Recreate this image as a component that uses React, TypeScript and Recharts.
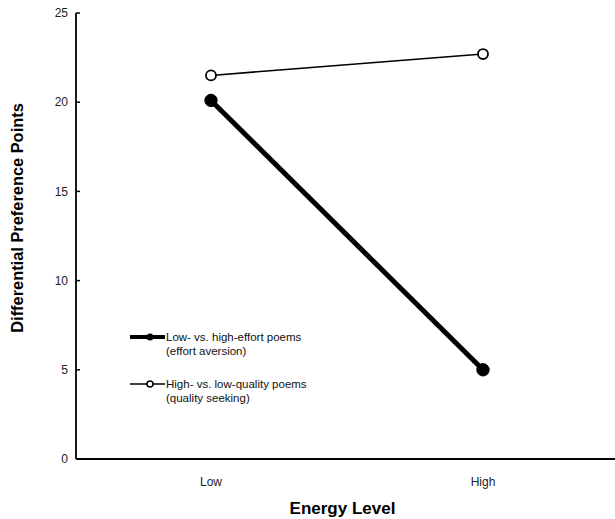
import React from 'react';
import { LineChart, Line, XAxis, YAxis, Legend, Label } from 'recharts';

const categories = ['Low', 'High'];
const effortAversion = [20.1, 5.0];
const qualitySeeking = [21.5, 22.7];
const yTicks = [0, 5, 10, 15, 20, 25];

const data = categories.map((c, i) => ({
  level: c,
  effort: effortAversion[i],
  quality: qualitySeeking[i],
}));

const FONT = '"Liberation Sans", Arial, sans-serif';

const LegendContent = () => (
  <svg width={240} height={90} style={{ fontFamily: FONT, display: 'block' }}>
    <line x1={0} y1={8} x2={35} y2={8} stroke="#000" strokeWidth={4} />
    <circle cx={20} cy={8} r={3.5} fill="#000" />
    <text x={36} y={12} fontSize={11.5} fill="#111">Low- vs. high-effort poems</text>
    <text x={36} y={26} fontSize={11.5} fill="#111">(effort aversion)</text>
    <line x1={0} y1={55} x2={35} y2={55} stroke="#000" strokeWidth={1.5} />
    <circle cx={20} cy={55} r={3} fill="#fff" stroke="#000" strokeWidth={1.5} />
    <text x={36} y={59} fontSize={11.5} fill="#111">High- vs. low-quality poems</text>
    <text x={36} y={73} fontSize={11.5} fill="#111">(quality seeking)</text>
  </svg>
);

export default function App() {
  return (
    <div style={{ position: 'absolute', left: 0, top: 0, background: '#fff' }}>
      <LineChart
        width={615}
        height={519}
        data={data}
        margin={{ top: 13, right: 0, bottom: 0, left: 0 }}
      >
        <XAxis
          dataKey="level"
          scale="point"
          padding={{ left: 135, right: 132 }}
          height={60}
          tickLine={false}
          axisLine={{ stroke: '#000', strokeWidth: 1.8 }}
          tick={{ fill: '#222', fontSize: 12, fontFamily: FONT }}
          tickMargin={12}
        >
          <Label
            value="Energy Level"
            position="insideBottom"
            offset={5}
            dx={-3}
            style={{ fontFamily: FONT, fontWeight: 'bold', fontSize: 17, fill: '#000' }}
          />
        </XAxis>
        <YAxis
          type="number"
          domain={[0, 25]}
          ticks={yTicks}
          width={76}
          tickSize={-4}
          tickMargin={12}
          tickLine={{ stroke: '#000', strokeWidth: 1.5 }}
          axisLine={{ stroke: '#000', strokeWidth: 1.8 }}
          tick={{ fill: '#222', fontSize: 12, fontFamily: FONT }}
        >
          <Label
            value="Differential Preference Points"
            angle={-90}
            position="insideLeft"
            offset={17}
            dx={0}
            dy={-18}
            style={{ fontFamily: FONT, fontWeight: 'bold', fontSize: 16.4, fill: '#000', textAnchor: 'middle' }}
          />
        </YAxis>
        <Legend
          verticalAlign="top"
          align="left"
          content={() => <LegendContent />}
          wrapperStyle={{ position: 'absolute', left: 130, top: 329, width: 0, height: 0, overflow: 'visible' }}
        />
        <Line
          dataKey="effort"
          stroke="#000"
          strokeWidth={5}
          dot={{ r: 6.2, fill: '#000', stroke: '#000', strokeWidth: 1 }}
          isAnimationActive={false}
        />
        <Line
          dataKey="quality"
          stroke="#000"
          strokeWidth={1.6}
          dot={{ r: 5, fill: '#fff', stroke: '#000', strokeWidth: 1.8 }}
          isAnimationActive={false}
        />
      </LineChart>
    </div>
  );
}
